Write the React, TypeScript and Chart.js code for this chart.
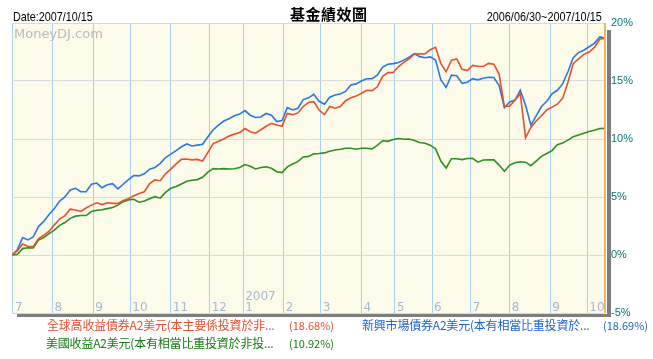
import React, { useEffect, useRef } from "react";
import { Chart, registerables } from "chart.js";

Chart.register(...registerables);

// x = trading-day number since 2006/06/30, sampled every 3 trading days
const tradingDays = Array.from({ length: 113 }, (_, i) => i * 3);

// month starts (trading-day number) and their labels
const monthTicks = [0.5, 23, 46, 67, 90, 112, 131, 154, 175, 198, 217, 238, 260, 282, 305, 326];
const monthLabels = ["7", "8", "9", "10", "11", "12", "1", "2", "3", "4", "5", "6", "7", "8", "9", "10"];
const yearLabel = "2007";
const yearLabelAt = 6;

const yMin = -5;
const yMax = 20;
const yStep = 5;

// 全球高收益債券A2美元 (red)
const highYield = [
  0, 0.35, 0.95, 0.75, 0.72, 1.4, 1.7, 2.05, 2.6, 3.1,
  3.4, 3.95, 3.88, 3.75, 4.05, 4.3, 4.5, 4.35, 4.5, 4.45,
  4.45, 4.7, 4.85, 5.1, 5.3, 5.45, 6.15, 6.47, 6.4, 7.0,
  7.4, 7.85, 8.25, 8.28, 8.2, 8.24, 8.1, 8.85, 9.6, 9.8,
  10.0, 10.25, 10.42, 10.55, 10.9, 10.63, 10.5, 10.8, 11.1, 11.35,
  11.2, 11.1, 12.2, 12.1, 12.25, 12.8, 13.15, 13.22, 12.5, 12.1,
  12.8, 12.65, 12.8, 13.3, 13.55, 13.7, 13.95, 14.2, 14.17, 14.5,
  15.4, 15.72, 15.72, 16.25, 16.6, 16.9, 17.33, 17.35, 17.33, 17.7,
  17.9, 16.5, 15.8, 16.8, 16.9, 16.0, 15.9, 16.35, 16.27, 16.25,
  16.52, 16.45, 15.6, 12.8, 12.85, 13.35, 13.9, 10.1, 11.0, 11.55,
  12.0, 12.5, 12.75, 13.0, 13.5, 14.9, 16.5, 16.9, 17.3, 17.5,
  17.9, 18.6, 18.68,
];

// 新興市場債券A2美元 (blue)
const emergingDebt = [
  0, 0.45, 1.5, 1.3, 1.55, 2.45, 2.9, 3.5, 4.0, 4.65,
  5.0, 5.6, 5.75, 5.45, 5.45, 6.1, 6.2, 5.8, 6.05, 6.15,
  5.7, 6.1, 6.5, 6.85, 6.82, 7.0, 7.4, 7.55, 7.9, 8.4,
  8.7, 9.0, 9.33, 9.57, 9.4, 9.47, 9.55, 10.2, 10.8, 11.2,
  11.55, 11.75, 12.0, 12.15, 12.45, 12.05, 11.85, 11.9, 12.2, 12.05,
  11.5, 11.6, 12.7, 12.5, 12.65, 13.4, 13.55, 13.85, 13.25, 13.0,
  13.6, 13.8, 13.88, 14.1, 14.66, 14.75, 15.0, 15.2, 15.2, 15.5,
  16.2, 16.45, 16.5, 16.6, 16.8, 17.05, 17.35, 17.1, 17.0, 17.08,
  16.8, 15.1, 14.45, 15.5, 15.45, 14.8, 14.9, 15.2, 15.1, 15.23,
  15.32, 15.3, 14.6, 12.7, 13.2, 13.36, 14.2, 12.9, 11.2, 12.0,
  12.8, 13.25, 13.9, 14.2, 14.75, 15.8, 17.0, 17.45, 17.65, 17.95,
  18.25, 18.8, 18.69,
];

// 美國收益A2美元 (green)
const usIncome = [
  0, 0.05, 0.55, 0.62, 0.6, 1.28, 1.5, 1.85, 2.15, 2.55,
  2.8, 3.16, 3.35, 3.4, 3.4, 3.75, 3.85, 3.9, 4.0, 4.1,
  4.3, 4.6, 4.75, 4.8, 4.55, 4.65, 4.85, 5.03, 4.9, 5.4,
  5.75, 5.9, 6.12, 6.35, 6.45, 6.5, 6.7, 7.15, 7.45, 7.42,
  7.45, 7.42, 7.43, 7.55, 7.8, 7.65, 7.42, 7.55, 7.6, 7.48,
  7.18, 7.1, 7.6, 7.84, 8.05, 8.45, 8.5, 8.72, 8.75, 8.8,
  8.95, 9.05, 9.11, 9.2, 9.2, 9.12, 9.2, 9.2, 9.15, 9.45,
  9.85, 9.8, 9.95, 10.04, 9.98, 10.0, 9.88, 9.7, 9.63, 9.47,
  9.15, 8.1, 7.5, 8.3, 8.3, 8.22, 8.32, 8.33, 8.0, 8.19,
  8.2, 8.2, 7.75, 7.22, 7.75, 7.96, 8.04, 8.0, 7.7, 8.1,
  8.5, 8.75, 9.0, 9.5, 9.65, 9.9, 10.2, 10.35, 10.5, 10.65,
  10.75, 10.9, 10.92,
];

const fundNames = [
  "全球高收益債券A2美元(本主要係投資於非...",
  "新興市場債券A2美元(本有相當比重投資於...",
  "美國收益A2美元(本有相當比重投資於非投...",
];
const fundReturns = ["(18.68%)", "(18.69%)", "(10.92%)"];

const titleText = "基金績效圖";
const dateText = "Date:2007/10/15";
const rangeText = "2006/06/30~2007/10/15";
const watermark = "MoneyDJ.com";

const RED = "#e5502e";
const BLUE = "#2b78e0";
const GREEN = "#2d8f22";

const decorPlugin = {
  id: "decor",
  beforeDraw(chart: any) {
    const { ctx, chartArea: a } = chart;
    ctx.save();
    ctx.fillStyle = "#fcfae8";
    ctx.fillRect(a.left, a.top, a.right - a.left, a.bottom - a.top);
    ctx.restore();
  },
  afterDraw(chart: any) {
    const { ctx, chartArea: a, scales } = chart;
    ctx.save();
    ctx.font = "12px 'DejaVu Sans'";
    ctx.fillStyle = "#a6b9d1";
    ctx.textBaseline = "alphabetic";
    ctx.textAlign = "left";
    monthTicks.forEach((v, i) => {
      const x = scales.x.getPixelForValue(v) + 2;
      ctx.fillText(monthLabels[i], x, a.bottom - 2);
      if (i === yearLabelAt) ctx.fillText(yearLabel, x, a.bottom - 13);
    });
    // orange right border
    ctx.fillStyle = "#f3b45e";
    ctx.fillRect(a.right - 1, a.top, 2, a.bottom - a.top);
    // drop shadow
    ctx.fillStyle = "#7d7d7d";
    ctx.fillRect(a.right + 2, a.top + 7, 4, a.bottom - a.top - 4);
    ctx.fillRect(a.left + 5, a.bottom + 1, a.right - a.left + 1, 3);
    ctx.restore();
  },
};

export default function App() {
  const canvasRef = useRef<HTMLCanvasElement | null>(null);

  useEffect(() => {
    const canvas = canvasRef.current;
    if (!canvas) return;
    const mk = (label: string, values: number[], color: string) => ({
      label,
      data: tradingDays.map((d, i) => ({ x: d, y: values[i] })),
      borderColor: color,
      backgroundColor: color,
      borderWidth: 1.6,
      pointRadius: 0,
      tension: 0,
      fill: false,
    });
    const chart = new Chart(canvas, {
      type: "line",
      data: {
        datasets: [
          mk(fundNames[0], highYield, RED),
          mk(fundNames[1], emergingDebt, BLUE),
          mk(fundNames[2], usIncome, GREEN),
        ],
      },
      options: {
        responsive: false,
        animation: false,
        layout: { padding: { left: 12, top: 23, right: 0, bottom: 46 } },
        plugins: {
          legend: { display: false },
          tooltip: { enabled: false },
          title: { display: false },
        },
        scales: {
          x: {
            type: "linear",
            min: tradingDays[0],
            max: tradingDays[tradingDays.length - 1],
            afterBuildTicks: (scale: any) => {
              scale.ticks = monthTicks.map((v) => ({ value: v }));
            },
            afterFit: (scale: any) => {
              scale.height = 0;
            },
            ticks: { display: false },
            grid: { color: "#a9d0f2", lineWidth: 1, drawTicks: false },
            border: { display: false },
          },
          y: {
            position: "right",
            min: yMin,
            max: yMax,
            ticks: {
              stepSize: yStep,
              padding: 6,
              color: "#0a7575",
              font: { family: "'Liberation Sans'", size: 11 },
              callback: (v: any) => `${v}%`,
            },
            afterFit: (scale: any) => {
              scale.width = 48;
            },
            grid: { color: "#d9d9d6", lineWidth: 1, drawTicks: false },
            border: { display: false },
          },
        },
      },
      plugins: [decorPlugin],
    } as any);
    return () => chart.destroy();
  }, []);

  const legendFont = "12px 'Noto Sans CJK TC'";
  const pctFont = "11px 'Noto Sans CJK TC'";
  const abs = (extra: any) => ({ position: "absolute" as const, whiteSpace: "nowrap" as const, ...extra });

  return (
    <div style={{ position: "absolute", left: 0, top: 0, width: 653, height: 359, background: "#fff", overflow: "hidden" }}>
      <canvas ref={canvasRef} width={653} height={359} style={{ position: "absolute", left: 0, top: 0, width: 653, height: 359 }} />
      <div style={abs({ left: 13, top: 10, font: "13px 'Liberation Sans'", lineHeight: "13px", transform: "scaleX(0.83)", transformOrigin: "left top", color: "#000" })}>{dateText}</div>
      <div style={abs({ left: 290, top: 6, font: "bold 15px 'Noto Sans CJK TC'", lineHeight: "15px", letterSpacing: "0.5px", color: "#000" })}>{titleText}</div>
      <div style={abs({ right: 51, top: 10, font: "13px 'Liberation Sans'", lineHeight: "13px", transform: "scaleX(0.835)", transformOrigin: "right top", color: "#000" })}>{rangeText}</div>
      <div style={abs({ left: 14, top: 27, font: "13px 'DejaVu Sans'", lineHeight: "13px", color: "#b9b9b9" })}>{watermark}</div>

      <div style={abs({ left: 47, top: 319, font: legendFont, lineHeight: "12px", letterSpacing: "-0.2px", color: RED })}>{fundNames[0]}</div>
      <div style={abs({ left: 289, top: 319, font: pctFont, lineHeight: "12px", color: RED })}>{fundReturns[0]}</div>
      <div style={abs({ left: 362, top: 319, font: legendFont, lineHeight: "12px", letterSpacing: "-0.2px", color: "#1d62d0" })}>{fundNames[1]}</div>
      <div style={abs({ left: 603, top: 319, font: pctFont, lineHeight: "12px", color: "#1d62d0" })}>{fundReturns[1]}</div>
      <div style={abs({ left: 46, top: 337, font: legendFont, lineHeight: "12px", letterSpacing: "-0.2px", color: "#167a12" })}>{fundNames[2]}</div>
      <div style={abs({ left: 289, top: 337, font: pctFont, lineHeight: "12px", color: "#167a12" })}>{fundReturns[2]}</div>
    </div>
  );
}
